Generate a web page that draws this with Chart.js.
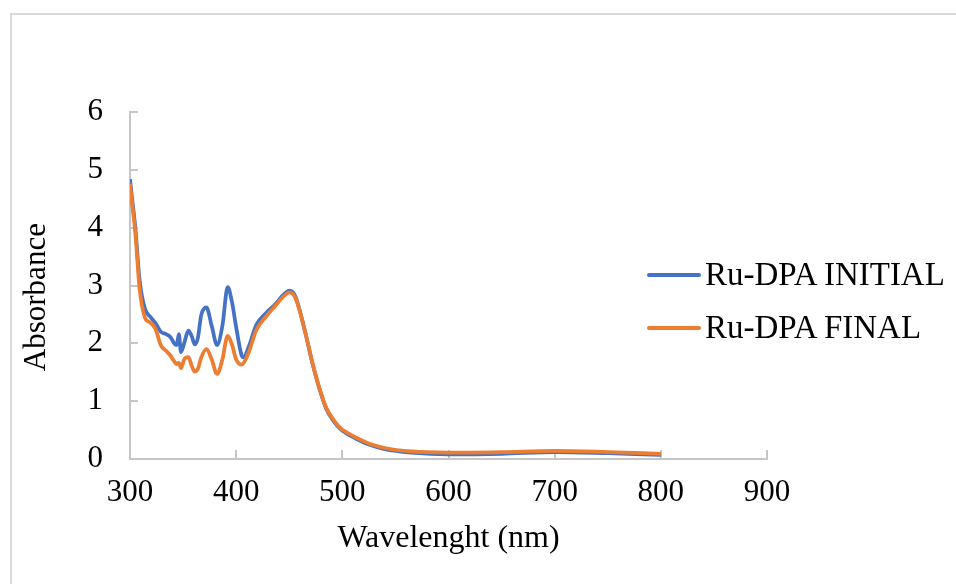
<!doctype html>
<html lang="en">
<head>
    <meta charset="utf-8" />
    <title>Ru-DPA absorbance</title>
    <script src="https://cdn.jsdelivr.net/npm/chart.js@4.4.1/dist/chart.umd.min.js"></script>
    <style>
        body { margin: 0; background: #fff; }
        #wrap { position: relative; width: 956px; height: 584px; overflow: hidden; }
        #frame {
            position: absolute; left: 10px; top: 13px; width: 980px; height: 620px;
            border: 2px solid #d9d9d9;
        }
        #myChart { position: absolute; left: 0; top: 0; }
        #legend {
            position: absolute; left: 647px; top: 248px;
            font-family: 'Liberation Serif', 'Times New Roman', serif; font-size: 33px; color: #000;
        }
        .item { display: flex; align-items: center; height: 53px; line-height: 1; white-space: nowrap; }
        .swatch { display: inline-block; width: 54px; height: 4px; margin-right: 4px; border-radius: 2px; }
    </style>
</head>
<body>
    <div id="wrap">
        <div id="frame"></div>
        <canvas id="myChart" width="956" height="584"></canvas>
        <div id="legend"></div>
    </div>

    <script>
        // wavelengths (nm) shared by both spectra
        const wavelengths = [300, 302, 305, 309, 314, 319, 324, 329, 334, 338, 342, 344, 346, 348, 351, 355, 358,
            361, 364, 367, 372, 377, 382, 387, 392, 396, 400, 405, 407, 412, 419, 428, 437, 444, 447, 450, 453, 456,
            460, 466, 472, 479, 485, 492, 498, 505, 512, 525, 540, 565, 600, 650, 700, 750, 800];

        const initial = [4.84, 4.5, 4.0, 3.1, 2.6, 2.46, 2.35, 2.2, 2.16, 2.11, 1.99, 1.97, 2.16, 1.85, 2.0, 2.22, 2.13,
            1.98, 2.1, 2.48, 2.62, 2.3, 1.97, 2.3, 2.97, 2.72, 2.28, 1.8, 1.76, 1.95, 2.32, 2.52, 2.68, 2.83, 2.88, 2.91, 2.89, 2.8,
            2.56, 2.12, 1.64, 1.18, 0.86, 0.65, 0.52, 0.43, 0.36, 0.25, 0.17, 0.11, 0.08, 0.09, 0.12, 0.1, 0.07];

        const final = [4.76, 4.42, 3.92, 2.95, 2.45, 2.36, 2.25, 1.97, 1.87, 1.79, 1.68, 1.64, 1.66, 1.57, 1.72, 1.76, 1.62,
            1.51, 1.56, 1.75, 1.9, 1.72, 1.47, 1.72, 2.13, 1.98, 1.72, 1.63, 1.66, 1.85, 2.23, 2.46, 2.65, 2.8, 2.85, 2.88, 2.86, 2.78,
            2.55, 2.12, 1.65, 1.19, 0.88, 0.67, 0.54, 0.45, 0.38, 0.27, 0.19, 0.13, 0.11, 0.12, 0.14, 0.12, 0.09];

        const seriesNames = ['Ru-DPA INITIAL', 'Ru-DPA FINAL'];
        const seriesColors = ['#4472C4', '#ED7D31'];
        const xTicks = [300, 400, 500, 600, 700, 800, 900];
        const yTicks = [0, 1, 2, 3, 4, 5, 6];

        const serif = 'Liberation Serif';
        const axisGray = '#c6c6c6';

        function toPoints(values) {
            return wavelengths.map((w, i) => ({ x: w, y: values[i] }));
        }

        // the FINAL curve is painted over the INITIAL one (lower order = on top)
        const datasets = [initial, final].map((values, i) => ({
            label: seriesNames[i],
            data: toPoints(values),
            borderColor: seriesColors[i],
            backgroundColor: seriesColors[i],
            borderWidth: 3.75,
            pointRadius: 0,
            cubicInterpolationMode: 'monotone',
            fill: false,
            order: 1 - i
        }));

        const ctx = document.getElementById('myChart').getContext('2d');
        const myChart = new Chart(ctx, {
            type: 'line',
            data: { datasets: datasets },
            options: {
                responsive: false,
                animation: false,
                layout: { padding: { left: 0, right: 189, top: 112, bottom: 0 } },
                plugins: {
                    legend: { display: false },
                    tooltip: { enabled: false }
                },
                scales: {
                    x: {
                        type: 'linear',
                        min: xTicks[0],
                        max: xTicks[xTicks.length - 1],
                        afterBuildTicks: (scale) => { scale.ticks = xTicks.map(v => ({ value: v })); },
                        afterFit: (scale) => { scale.height = 125; },
                        ticks: {
                            font: { family: serif, size: 31 },
                            color: '#000',
                            padding: 24,
                            maxRotation: 0,
                            autoSkip: false
                        },
                        grid: { drawOnChartArea: false, drawTicks: true, tickLength: -9, color: axisGray, lineWidth: 2 },
                        border: { color: axisGray, width: 2 },
                        title: {
                            display: true,
                            text: 'Wavelenght (nm)',
                            color: '#000',
                            font: { family: serif, size: 32 },
                            padding: { top: 0, bottom: 26 }
                        }
                    },
                    y: {
                        min: yTicks[0],
                        max: yTicks[yTicks.length - 1],
                        afterBuildTicks: (scale) => { scale.ticks = yTicks.map(v => ({ value: v })); },
                        afterFit: (scale) => { scale.width = 130; },
                        ticks: {
                            font: { family: serif, size: 31 },
                            color: '#000',
                            padding: 35
                        },
                        grid: { drawOnChartArea: false, drawTicks: true, tickLength: -8, color: axisGray, lineWidth: 2 },
                        border: { color: axisGray, width: 2 },
                        title: {
                            display: true,
                            // trailing spaces nudge the rotated title a little lower, as in the original
                            text: 'Absorbance\u00a0\u00a0\u00a0',
                            color: '#000',
                            font: { family: serif, size: 31 },
                            padding: { top: 18, bottom: 0 }
                        }
                    }
                }
            }
        });

        // html legend built from the datasets
        const legendEl = document.getElementById('legend');
        myChart.data.datasets.forEach(ds => {
            const row = document.createElement('div');
            row.className = 'item';
            const sw = document.createElement('span');
            sw.className = 'swatch';
            sw.style.background = ds.borderColor;
            const txt = document.createElement('span');
            txt.textContent = ds.label;
            row.appendChild(sw);
            row.appendChild(txt);
            legendEl.appendChild(row);
        });
    </script>
</body>
</html>
